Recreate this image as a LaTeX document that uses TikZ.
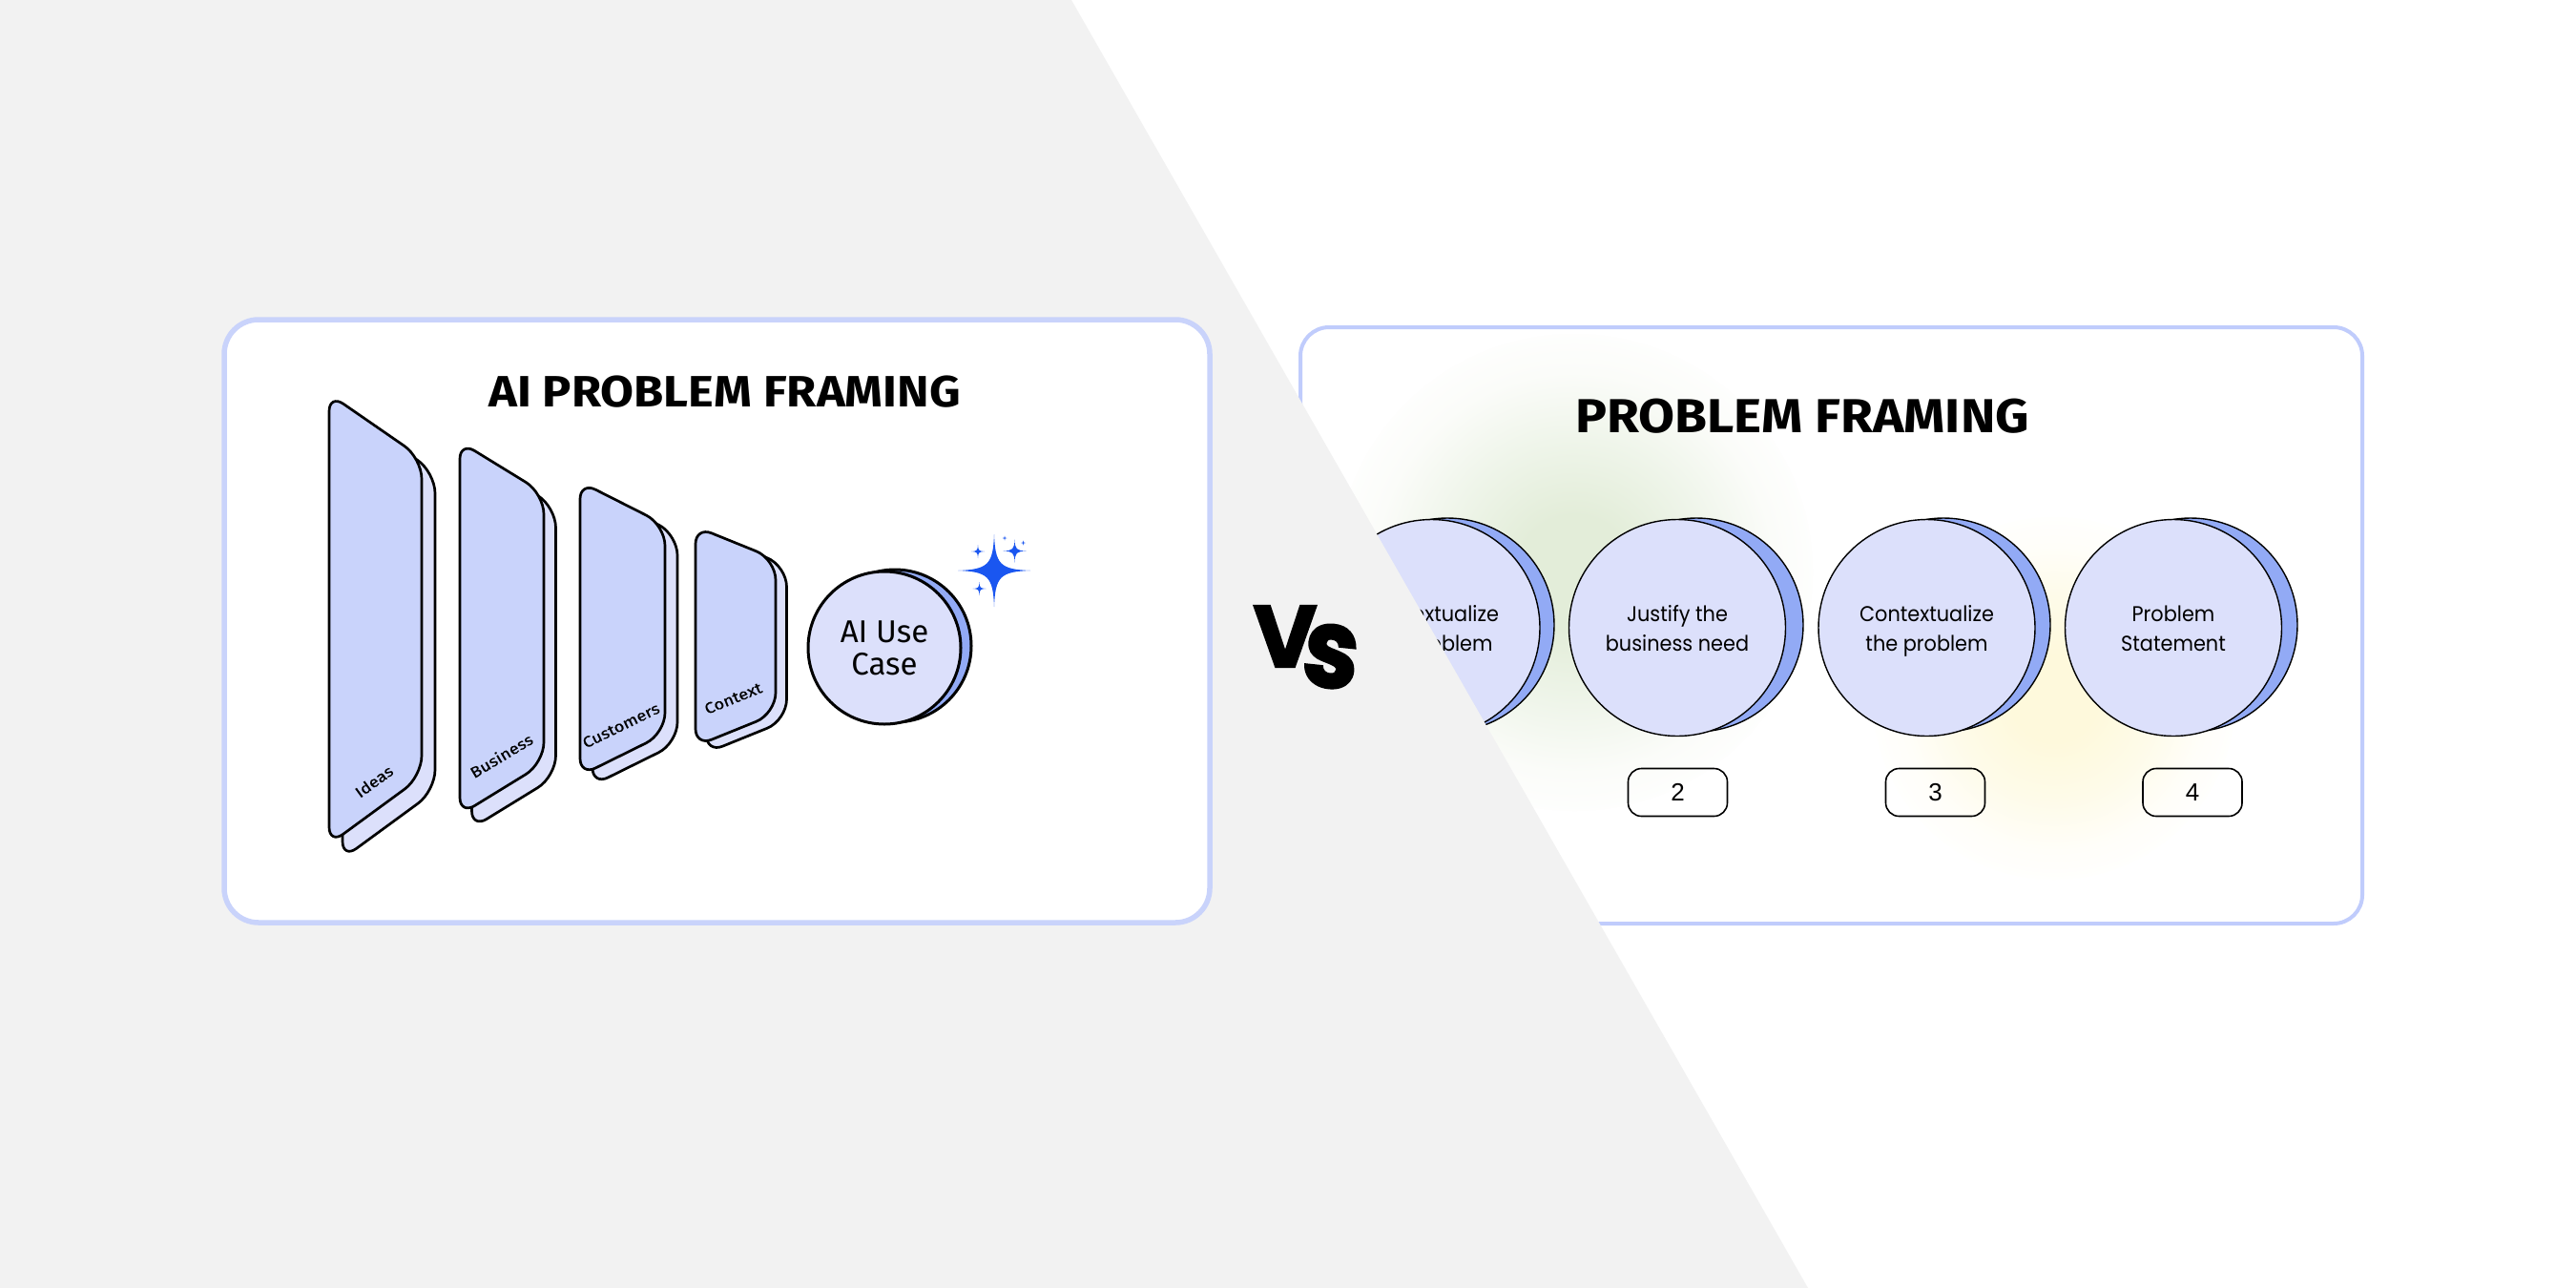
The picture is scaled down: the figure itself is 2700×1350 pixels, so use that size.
\documentclass[tikz,border=0pt]{standalone}
\usepackage{fontspec}
\setmainfont[FakeStretch=1.1]{Fira Sans}
\newfontfamily\usecasefont{Fira Sans}
\newfontfamily\slabfont[FakeStretch=1.15,FakeBold=0.6]{Fira Sans}
\newfontfamily\roundfont[FakeStretch=0.93]{Poppins}
\newfontfamily\digitfont{Liberation Sans}
\newfontfamily\vsfont[FakeBold=2]{Poppins}
\newfontfamily\vssmall[FakeBold=2,FakeStretch=0.9]{Poppins}
\newcommand{\coinstrut}{\rule[-3.3pt]{0pt}{15.3pt}}
\definecolor{pagegrey}{HTML}{F2F2F2}
\definecolor{leftline}{HTML}{C9D3FB}
\definecolor{rightline}{HTML}{C0CCFC}
\definecolor{slabfront}{HTML}{C9D3FB}
\definecolor{slabback}{HTML}{DCE0FB}
\definecolor{coinback}{HTML}{92AAF5}
\definecolor{sparkblue}{HTML}{1A56F0}
\definecolor{greenA}{HTML}{E3EDD9}
\definecolor{greenB}{HTML}{EFF5EA}
\definecolor{greenC}{HTML}{FBFCF9}
\definecolor{yellowA}{HTML}{FEF9DC}
\definecolor{yellowB}{HTML}{FEFBE9}
\definecolor{yellowC}{HTML}{FFFEF9}
\pgfdeclareradialshading{greenglow}{\pgfpoint{0bp}{0bp}}{color(0bp)=(greenA); color(6bp)=(greenA); color(14bp)=(greenB); color(21bp)=(greenC); color(27bp)=(white); color(50bp)=(white)}
\pgfdeclareradialshading{yellowglow}{\pgfpoint{0bp}{0bp}}{color(0bp)=(yellowA); color(6bp)=(yellowA); color(14bp)=(yellowB); color(21bp)=(yellowC); color(27bp)=(white); color(50bp)=(white)}
\newcommand{\sparkle}[3]{\fill[sparkblue] (#1,#2-#3) .. controls (#1+0.03*#3,#2-0.17*#3) and (#1+0.17*#3,#2-0.03*#3) .. (#1+#3,#2) .. controls (#1+0.17*#3,#2+0.03*#3) and (#1+0.03*#3,#2+0.17*#3) .. (#1,#2+#3) .. controls (#1-0.03*#3,#2+0.17*#3) and (#1-0.17*#3,#2+0.03*#3) .. (#1-#3,#2) .. controls (#1-0.17*#3,#2-0.03*#3) and (#1-0.03*#3,#2-0.17*#3) .. (#1,#2-#3) -- cycle;}
\begin{document}
\begin{tikzpicture}[x=0.5pt, y=-0.5pt,
    leftcard/.style={draw=leftline, line width=2.75pt, fill=white, rounded corners=18pt, minimum width=516.5pt, minimum height=316pt},
    rightcard/.style={draw=rightline, line width=2pt, fill=white, rounded corners=15pt, minimum width=556.5pt, minimum height=312.5pt},
    slabA/.style={draw=black, line width=1.35pt, fill=slabfront, line join=round},
    slabB/.style={draw=black, line width=1.35pt, fill=slabback, line join=round},
    slabtext/.style={font=\slabfont\fontsize{8}{9}\selectfont},
    coinback/.style={circle, draw=black, line width=0.7pt, fill=coinback, minimum size=112pt, inner sep=0pt},
    coinfront/.style={circle, draw=black, line width=0.7pt, fill=slabback, minimum size=113.5pt, inner sep=0pt, align=center, font=\roundfont\fontsize{11.2}{15.5}\selectfont},
    badge/.style={draw=black, line width=0.8pt, rounded corners=7pt, minimum width=52pt, minimum height=25pt, font=\digitfont\fontsize{13}{13}\selectfont}]
\useasboundingbox (0,0) rectangle (2700,1350);
\fill[white] (0,0) rectangle (2700,1350);

% right half
\node[rightcard] (rightframe) at (1919.5,655.5) {};
\shade[shading=greenglow] (1650,600) circle (250);
\shade[shading=yellowglow] (2153,732) circle (190);
\node[font=\bfseries\fontsize{25}{25}\selectfont] (righttitle) at (1889,436) {PROBLEM FRAMING};
\node[coinback] (backA) at (1517,655) {};
\node[coinback] (backB) at (1778,655) {};
\node[coinback] (backC) at (2037,655) {};
\node[coinback] (backD) at (2296,655) {};
\node[coinfront] (contextA) at (1500.5,658) {\coinstrut Contextualize\\\coinstrut the problem};
\node[coinfront] (justify) at (1758,658) {\coinstrut Justify the\\\coinstrut business need};
\node[coinfront] (contextB) at (2019.5,658) {\coinstrut Contextualize\\\coinstrut the problem};
\node[coinfront] (statement) at (2278,658) {\coinstrut Problem\\\coinstrut Statement};
\node[badge] (numtwo) at (1758.5,830.5) {2};
\node[badge] (numthree) at (2028.5,830.5) {3};
\node[badge] (numfour) at (2298,830.5) {4};

% grey wedge on top of the right card
\fill[pagegrey] (0,0) -- (1123,0) -- (1895,1350) -- (0,1350) -- cycle;

% left card
\node[leftcard] (leftframe) at (751.5,651) {};
\node[font=\bfseries\fontsize{23}{23}\selectfont] (lefttitle) at (759.5,411) {AI PROBLEM FRAMING};

\draw[slabB] (359,650) [rounded corners=9pt] -- (359,428) [rounded corners=11pt] -- (456,495) -- (456,829) [rounded corners=9pt] -- (359,900) -- cycle;
\draw[slabA] (345,650) [rounded corners=9pt] -- (345,413) [rounded corners=11pt] -- (442,480) -- (442,814) [rounded corners=9pt] -- (345,885) -- cycle;
\node[slabtext, rotate=36] (ideas) at (392,819) {Ideas};

\draw[slabB] (494.5,650) [rounded corners=9pt] -- (494.5,477) [rounded corners=11pt] -- (582.5,531) -- (582.5,814) [rounded corners=9pt] -- (494.5,868) -- cycle;
\draw[slabA] (482,650) [rounded corners=9pt] -- (482,463) [rounded corners=11pt] -- (570,517) -- (570,800) [rounded corners=9pt] -- (482,854) -- cycle;
\node[slabtext, rotate=31] (business) at (525.5,792) {Business};

\draw[slabB] (621,650) [rounded corners=9pt] -- (621,515) [rounded corners=11pt] -- (710,560) -- (710,779) [rounded corners=9pt] -- (621,823) -- cycle;
\draw[slabA] (608,650) [rounded corners=9pt] -- (608,505) [rounded corners=11pt] -- (697,550) -- (697,769) [rounded corners=9pt] -- (608,813) -- cycle;
\node[slabtext, rotate=26] (customers) at (651,760.5) {Customers};

\draw[slabB] (740.5,650) [rounded corners=9pt] -- (740.5,559) [rounded corners=11pt] -- (824.5,593) -- (824.5,755) [rounded corners=9pt] -- (740.5,789) -- cycle;
\draw[slabA] (729,650) [rounded corners=9pt] -- (729,552) [rounded corners=11pt] -- (813,586) -- (813,748) [rounded corners=9pt] -- (729,782) -- cycle;
\node[slabtext, rotate=22] (context) at (768.5,732) {Context};

\node[circle, draw=black, line width=1.5pt, fill=coinback, minimum size=80pt, inner sep=0pt] (usecaseback) at (938,677) {};
\node[circle, draw=black, line width=1.5pt, fill=slabback, minimum size=80pt, inner sep=0pt, align=center, font=\usecasefont\fontsize{16.5}{17}\selectfont] (usecase) at (927,679) {AI Use\\Case};

\sparkle{1042}{598}{38}
\sparkle{1025}{578}{7}
\sparkle{1063.5}{577.5}{12}
\sparkle{1026.5}{617}{7}
\sparkle{1053}{564}{2.5}
\sparkle{1072.5}{569}{2.5}

% vs mark
\node[font=\vsfont\bfseries\fontsize{46}{46}\selectfont] (vsv) at (1347,667) {V};
\node[font=\vssmall\bfseries\fontsize{58}{58}\selectfont, rotate=-6] (vss) at (1395,688) {s};
\end{tikzpicture}
\end{document}
